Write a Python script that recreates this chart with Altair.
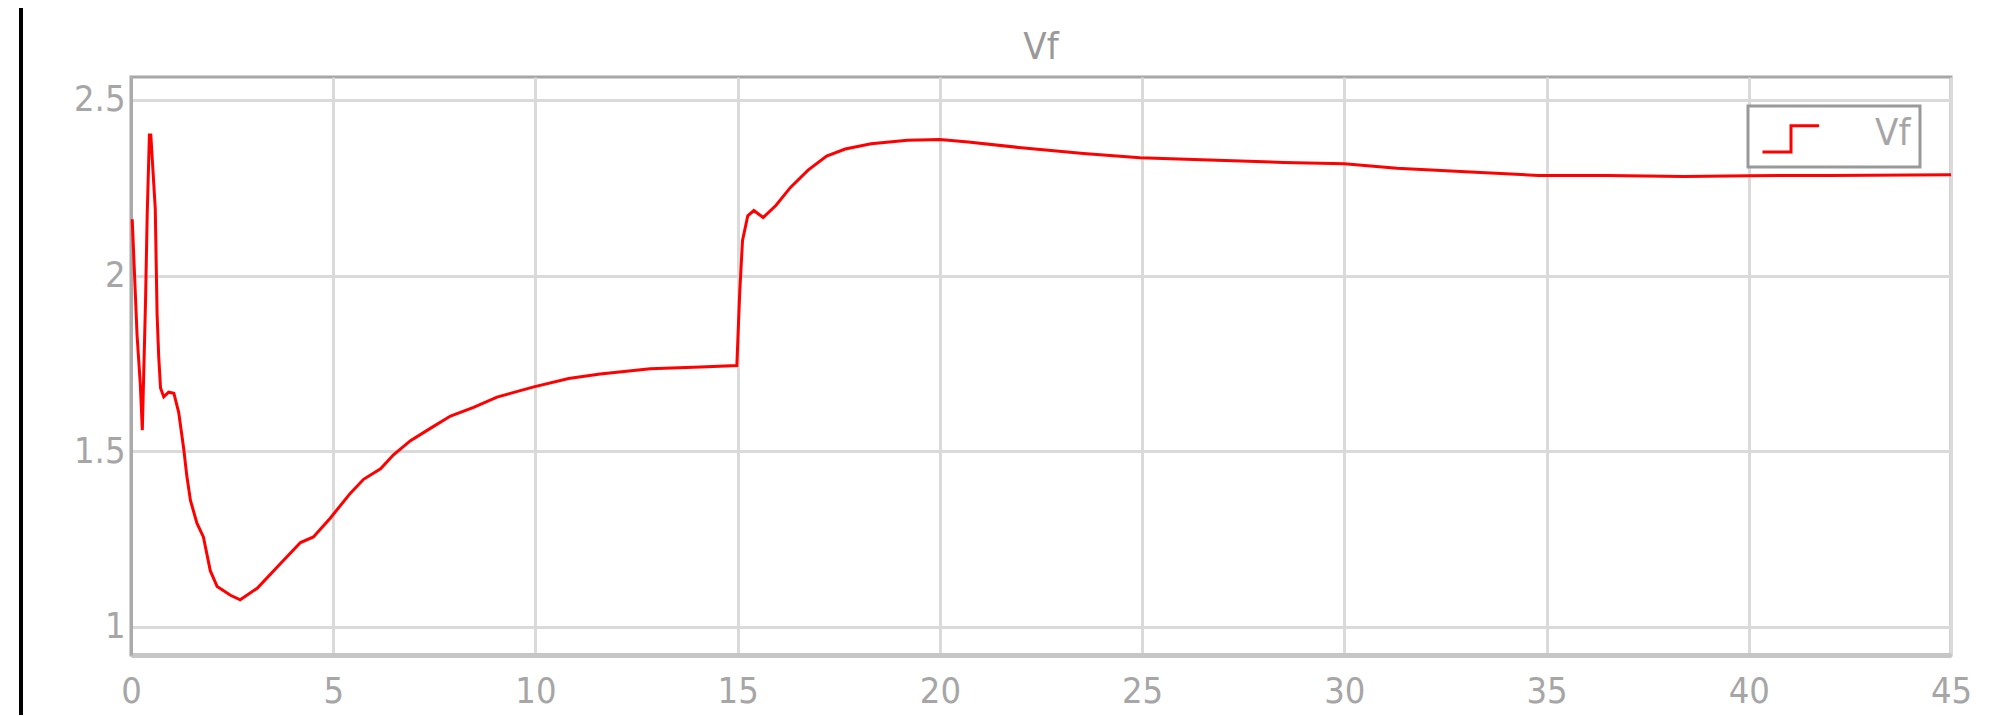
import altair as alt
import pandas as pd

# ---- data ----
t = [0.03, 0.07, 0.15, 0.23, 0.28, 0.36, 0.40, 0.455, 0.49, 0.60, 0.645, 0.685,
     0.73, 0.81, 0.93, 1.06, 1.18, 1.30, 1.38, 1.47, 1.63, 1.79, 1.96, 2.13,
     2.46, 2.70, 3.12, 3.61, 4.19, 4.51, 4.93, 5.42, 5.75, 6.17, 6.49, 6.91,
     7.40, 7.90, 8.47, 9.05, 9.96, 10.82, 11.6, 12.84, 14.08, 14.98, 15.05,
     15.12, 15.25, 15.4, 15.63, 15.95, 16.3, 16.74, 17.2, 17.66, 18.3, 19.2,
     20.0, 20.7, 22.15, 23.55, 24.95, 26.85, 28.5, 30.0, 31.3, 33.0, 34.8,
     36.5, 38.4, 40.0, 42.0, 45.0]
vf = [2.16, 2.05, 1.83, 1.69, 1.56, 1.93, 2.17, 2.40, 2.40, 2.19, 1.89, 1.77,
      1.68, 1.655, 1.668, 1.665, 1.61, 1.51, 1.43, 1.36, 1.295, 1.256, 1.16, 1.115,
      1.09, 1.077, 1.11, 1.17, 1.24, 1.256, 1.31, 1.38, 1.42, 1.45, 1.49, 1.53,
      1.565, 1.60, 1.625, 1.654, 1.683, 1.707, 1.72, 1.735, 1.74, 1.744, 1.95,
      2.10, 2.17, 2.185, 2.165, 2.20, 2.25, 2.30, 2.34, 2.36, 2.375, 2.385,
      2.387, 2.38, 2.362, 2.347, 2.335, 2.328, 2.322, 2.318, 2.305, 2.295, 2.285,
      2.285, 2.282, 2.284, 2.285, 2.287]
series_names = ["Vf"]
x_ticks = [0, 5, 10, 15, 20, 25, 30, 35, 40, 45]
y_ticks = [1, 1.5, 2, 2.5]
chart_title = "Vf"

df = pd.DataFrame({"t": t, "vf": vf, "series": series_names * len(t)})

FONT = "Liberation Sans Narrow, DejaVu Sans Condensed, Arial Narrow, sans-serif"
LABEL_COLOR = "#a6a6a6"

line = alt.Chart(df).mark_line(strokeWidth=3).encode(
    x=alt.X("t:Q",
            scale=alt.Scale(domain=[0, 45], nice=False, zero=False),
            axis=alt.Axis(values=x_ticks, title=None, format="d", labelFlush=False,
                          labelPadding=19, ticks=False, domainColor="#c6c6c6",
                          domainWidth=5, labelFontSize=36)),
    y=alt.Y("vf:Q",
            scale=alt.Scale(domain=[0.92, 2.565], nice=False, zero=False),
            axis=alt.Axis(values=y_ticks, title=None, format="~g", labelPadding=6,
                          ticks=False, domainColor="#aaaaaa", domainWidth=3,
                          labelFontSize=36)),
    color=alt.Color("series:N",
                    scale=alt.Scale(domain=series_names, range=["#ff0000"]),
                    legend=alt.Legend(title=None, orient="none", legendX=1617, legendY=29,
                                      strokeColor="#999999", fillColor="white",
                                      padding=9, symbolType="M -0.9 1.2 L 1 1.2 L 1 -0.55 L 2.87 -0.55",
                                      symbolSize=900, symbolStrokeWidth=3,
                                      labelFontSize=38, labelFont=FONT,
                                      labelColor=LABEL_COLOR, labelOffset=80)),
)

border = alt.Chart(pd.DataFrame({"k": [0]})).mark_rule(color="black", strokeWidth=4).encode(
    x=alt.value(-110), y=alt.value(-80), y2=alt.value(640)
)

chart = alt.layer(line, border).properties(
    width=1820,
    height=578,
    autosize=alt.AutoSizeParams(type="none"),
    padding={"left": 123, "top": 69, "right": 48, "bottom": 60},
    title=alt.TitleParams(chart_title, fontSize=38, font=FONT, color="#999999",
                          fontWeight="normal", offset=0, dy=72, anchor="middle", frame="group"),
).configure_axis(
    gridColor="#dadada",
    gridWidth=3,
    labelFont=FONT,
    labelColor=LABEL_COLOR,
).configure_view(
    stroke="#a6a6a6",
    strokeWidth=3,
).configure_legend(
    strokeWidth=3,
)

chart.save("out.html", embed_options={"renderer": "svg", "actions": False})
